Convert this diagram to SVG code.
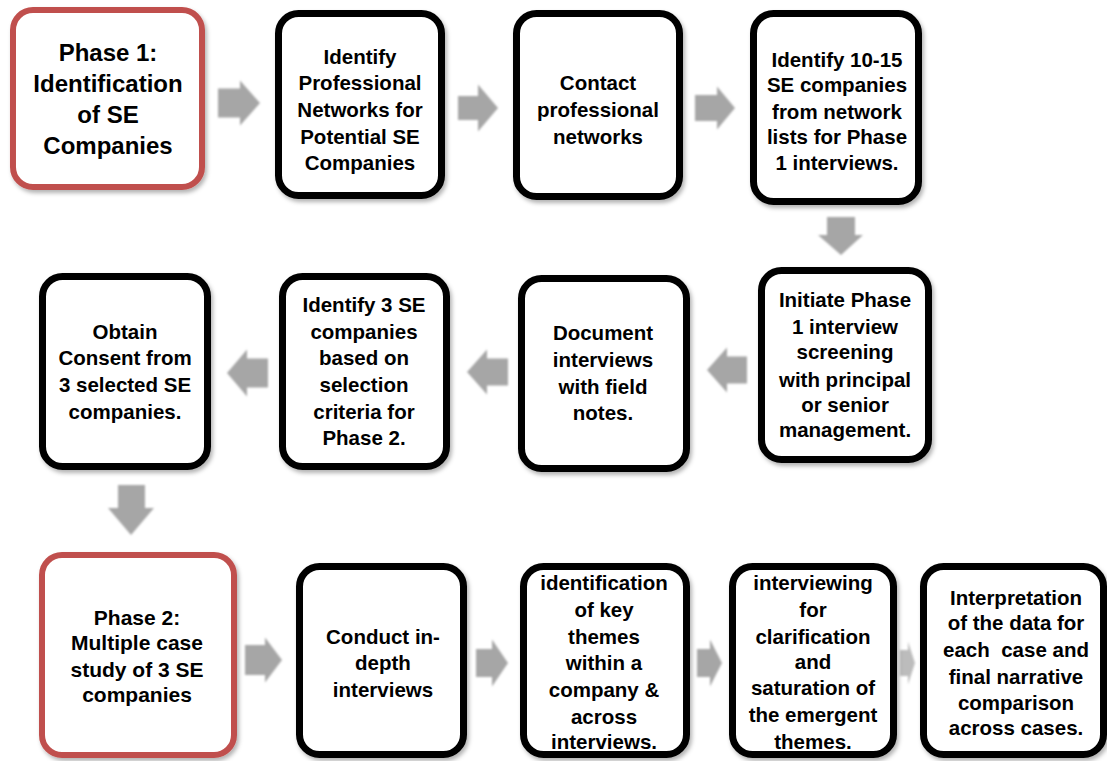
<svg xmlns="http://www.w3.org/2000/svg" width="1107" height="761" viewBox="0 0 1107 761">
<defs>
<filter id="sh" x="-10%" y="-10%" width="125%" height="125%">
<feDropShadow dx="2" dy="3" stdDeviation="2" flood-color="#000" flood-opacity="0.3"/>
</filter>
<filter id="ash" x="-20%" y="-20%" width="150%" height="150%">
<feGaussianBlur stdDeviation="0.8"/>
</filter>
<style>
.box{fill:#fff;stroke:#000;stroke-width:7;filter:url(#sh)}
.phase{fill:#fff;stroke:#c0504d;stroke-width:6;filter:url(#sh)}
.arr{fill:#a6a6a6;filter:url(#ash)}
text{font-family:"Liberation Sans",Arial,sans-serif;font-weight:bold;fill:#000;text-anchor:middle;font-size:20.5px}
.big{font-size:24px}
.mid{font-size:21px}
</style>
</defs>
<rect width="1107" height="761" fill="#fff"/>
<g id="connectors">
<polygon class="arr" points="218,88.5 240,88.5 240,80.5 260,103 240,125.5 240,117.5 218,117.5"/>
<polygon class="arr" points="458,96 478,96 478,84.5 498,108 478,131.5 478,120 458,120"/>
<polygon class="arr" points="695,95 717,95 717,86.5 735,108 717,129.5 717,121 695,121"/>
<polygon class="arr" points="827,217 855,217 855,235 863,235 841,255 818,235 827,235"/>
<polygon class="arr" points="747,356.5 727,356.5 727,347.5 707,370 727,392.5 727,383.5 747,383.5"/>
<polygon class="arr" points="508,358.5 487,358.5 487,349.5 467,372 487,394.5 487,385.5 508,385.5"/>
<polygon class="arr" points="268,358.5 247,358.5 247,349.5 227,373 247,396.5 247,387.5 268,387.5"/>
<polygon class="arr" points="118,485 145,485 145,508 154,508 131,535 108,508 118,508"/>
<polygon class="arr" points="245,645 265,645 265,637.5 282,660 265,682.5 265,675 245,675"/>
<polygon class="arr" points="476,649 492,649 492,639.5 508,663 492,686.5 492,677 476,677"/>
<polygon class="arr" points="697,649 710,649 710,639.5 722,663 710,686.5 710,677 697,677"/>
<polygon class="arr" points="900,650 908,650 908,641.5 915,663 908,684.5 908,676 900,676" opacity="0.75"/>
</g>
<g id="n1">
<rect class="phase" x="13" y="10" width="189" height="177" rx="20"/>
<text class="big" x="108" y="61">Phase 1:</text>
<text class="big" x="108" y="92">Identification</text>
<text class="big" x="108" y="123">of SE</text>
<text class="big" x="108" y="154">Companies</text>
</g>
<g id="n2">
<rect class="box" x="278.5" y="13.5" width="163" height="182" rx="20"/>
<text x="360" y="64">Identify</text>
<text x="360" y="90">Professional</text>
<text x="360" y="117">Networks for</text>
<text x="360" y="144">Potential SE</text>
<text x="360" y="170">Companies</text>
</g>
<g id="n3">
<rect class="box" x="516.5" y="13.5" width="163" height="183" rx="20"/>
<text x="598" y="90">Contact</text>
<text x="598" y="117">professional</text>
<text x="598" y="144">networks</text>
</g>
<g id="n4">
<rect class="box" x="753.5" y="13.5" width="165" height="188" rx="20"/>
<text x="837" y="67">Identify 10-15</text>
<text x="837" y="92">SE companies</text>
<text x="837" y="119">from network</text>
<text x="837" y="144">lists for Phase</text>
<text x="837" y="170">1 interviews.</text>
</g>
<g id="n5">
<rect class="box" x="761.5" y="270.5" width="167" height="189" rx="20"/>
<text x="845" y="307">Initiate Phase</text>
<text x="845" y="334">1 interview</text>
<text x="845" y="359">screening</text>
<text x="845" y="387">with principal</text>
<text x="845" y="412">or senior</text>
<text x="845" y="437">management.</text>
</g>
<g id="n6">
<rect class="box" x="521.5" y="278.5" width="165" height="190" rx="20"/>
<text x="603" y="340">Document</text>
<text x="603" y="367">interviews</text>
<text x="603" y="394">with field</text>
<text x="603" y="420">notes.</text>
</g>
<g id="n7">
<rect class="box" x="282.5" y="276.5" width="164" height="190" rx="20"/>
<text x="364" y="312">Identify 3 SE</text>
<text x="364" y="339">companies</text>
<text x="364" y="365">based on</text>
<text x="364" y="392">selection</text>
<text x="364" y="419">criteria for</text>
<text x="364" y="445">Phase 2.</text>
</g>
<g id="n8">
<rect class="box" x="42.5" y="276.5" width="165" height="190" rx="20"/>
<text x="125" y="339">Obtain</text>
<text x="125" y="365">Consent from</text>
<text x="125" y="392">3 selected SE</text>
<text x="125" y="419">companies.</text>
</g>
<g id="n9">
<rect class="phase" x="42" y="555" width="192" height="200" rx="20"/>
<text class="mid" x="137" y="625">Phase 2:</text>
<text class="mid" x="137" y="650">Multiple case</text>
<text class="mid" x="137" y="677">study of 3 SE</text>
<text class="mid" x="137" y="702">companies</text>
</g>
<g id="n10">
<rect class="box" x="299.5" y="566.5" width="164" height="188" rx="20"/>
<text x="383" y="644">Conduct in-</text>
<text x="383" y="670">depth</text>
<text x="383" y="697">interviews</text>
</g>
<g id="n11">
<rect class="box" x="523.5" y="566.5" width="163" height="188" rx="20"/>
<text x="604" y="590">identification</text>
<text x="604" y="617">of key</text>
<text x="604" y="644">themes</text>
<text x="604" y="670">within a</text>
<text x="604" y="697">company &amp;</text>
<text x="604" y="724">across</text>
<text x="604" y="749">interviews.</text>
</g>
<g id="n12">
<rect class="box" x="732.5" y="566.5" width="161" height="188" rx="20"/>
<text x="813" y="590">interviewing</text>
<text x="813" y="617">for</text>
<text x="813" y="644">clarification</text>
<text x="813" y="669">and</text>
<text x="813" y="695">saturation of</text>
<text x="813" y="722">the emergent</text>
<text x="813" y="749">themes.</text>
</g>
<g id="n13">
<rect class="box" x="923.5" y="566.5" width="180" height="188" rx="20"/>
<text x="1016" y="605">Interpretation</text>
<text x="1016" y="630">of the data for</text>
<text x="1016" y="657">each&#160; case and</text>
<text x="1016" y="684">final narrative</text>
<text x="1016" y="710">comparison</text>
<text x="1016" y="735">across cases.</text>
</g>
</svg>
